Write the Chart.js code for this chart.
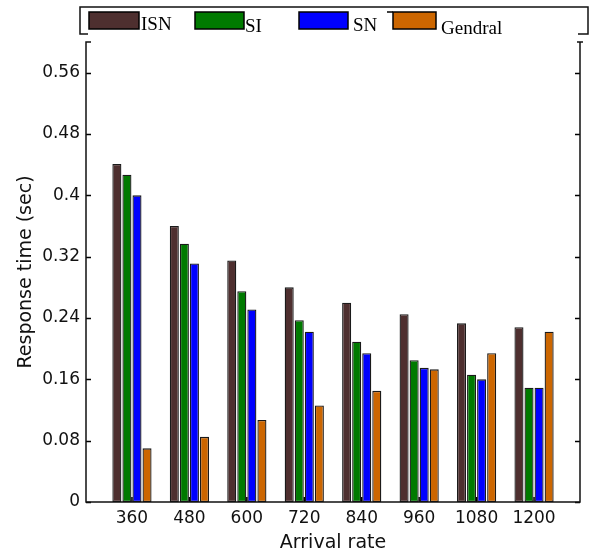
<!DOCTYPE html>
<html>
<head>
<meta charset="utf-8">
<script src="https://cdn.jsdelivr.net/npm/chart.js@4"></script>
<style>
  body { margin: 0; background: #fff; }
  #wrap { width: 590px; height: 558px; }
</style>
</head>
<body>
<div id="wrap"><canvas id="histogram" width="590" height="558"></canvas></div>
<script>
// data
const arrivalRates = ['360', '480', '600', '720', '840', '960', '1080', '1200'];
const isn     = [0.441, 0.360, 0.315, 0.280, 0.260, 0.245, 0.233, 0.228];
const si      = [0.427, 0.337, 0.275, 0.237, 0.209, 0.185, 0.166, 0.149];
const sn      = [0.400, 0.311, 0.251, 0.222, 0.194, 0.175, 0.160, 0.149];
const gendral = [0.070, 0.085, 0.107, 0.126, 0.145, 0.173, 0.194, 0.222];
const yTicks      = [0, 0.08, 0.16, 0.24, 0.32, 0.4, 0.48, 0.56];
const yTickLabels = ['0', '0.08', '0.16', '0.24', '0.32', '0.4', '0.48', '0.56'];

const toPoints = vals => vals.map((v, i) => ({ x: i + 1, y: v }));

// matlab style box: inward ticks, side lines, odd legend box on top
const matlabFrame = {
  id: 'matlabFrame',
  beforeDatasetsDraw(chart) {
    const { ctx, chartArea: a, scales: { x, y } } = chart;
    ctx.save();
    ctx.strokeStyle = '#000';
    ctx.lineWidth = 1.5;
    ctx.beginPath();
    y.ticks.forEach(t => {
      const py = Math.round(y.getPixelForValue(t.value)) + 0.5;
      ctx.moveTo(a.left, py); ctx.lineTo(a.left + 5, py);
      ctx.moveTo(a.right, py); ctx.lineTo(a.right - 5, py);
    });
    x.ticks.forEach(t => {
      const px = x.getPixelForValue(t.value);
      ctx.moveTo(px, a.bottom); ctx.lineTo(px, a.bottom - 5);
    });
    ctx.stroke();
    ctx.restore();
  },
  afterDatasetsDraw(chart) {
    const { ctx, chartArea: a } = chart;
    ctx.save();
    ctx.strokeStyle = '#111';
    ctx.lineWidth = 1.5;
    ctx.beginPath();
    ctx.moveTo(a.left + 5, a.top); ctx.lineTo(a.left, a.top);
    ctx.lineTo(a.left, a.bottom); ctx.lineTo(a.right, a.bottom);
    ctx.lineTo(a.right, a.top);
    ctx.moveTo(a.right - 3, a.top); ctx.lineTo(a.right + 3, a.top);
    ctx.stroke();
    ctx.restore();
  },
  afterDraw(chart) {
    const ctx = chart.ctx;
    const sets = chart.data.datasets;
    // legend box
    ctx.save();
    ctx.strokeStyle = '#111';
    ctx.lineWidth = 1.5;
    ctx.beginPath();
    ctx.moveTo(88, 34); ctx.lineTo(80, 34); ctx.lineTo(80, 7);
    ctx.lineTo(588, 7); ctx.lineTo(588, 34); ctx.lineTo(578, 34);
    ctx.stroke();

    const swX = [89, 195, 299, 393];
    const swW = [50, 49, 49, 43];
    const txtX = [141, 245, 353, 441];
    const txtY = [30, 32, 31, 34];
    ctx.font = '19px "Liberation Serif", "Times New Roman", serif';
    ctx.textBaseline = 'alphabetic';
    sets.forEach((ds, i) => {
      ctx.fillStyle = ds.backgroundColor;
      ctx.fillRect(swX[i], 12, swW[i], 17);
      ctx.lineWidth = 1.5;
      ctx.strokeStyle = '#000';
      ctx.strokeRect(swX[i], 12, swW[i], 17);
      ctx.fillStyle = '#000';
      ctx.fillText(ds.label, txtX[i], txtY[i]);
    });
    ctx.beginPath();
    ctx.moveTo(387, 12); ctx.lineTo(393, 12);
    ctx.stroke();
    ctx.restore();
  }
};

Chart.defaults.font.family = '"DejaVu Sans", sans-serif';
Chart.defaults.color = '#111';

const ctx = document.getElementById('histogram').getContext('2d');
const bar = (label, vals, color) => ({
  label: label,
  data: toPoints(vals),
  backgroundColor: color,
  borderColor: '#1a1a1a',
  borderWidth: 1.3,
  borderSkipped: false,
  categoryPercentage: 0.7,
  barPercentage: 0.9
});

new Chart(ctx, {
  type: 'bar',
  data: {
    datasets: [
      bar('ISN', isn, '#4e2f2f'),
      bar('SI', si, '#007a00'),
      bar('SN', sn, '#0000ff'),
      bar('Gendral', gendral, '#cc6600')
    ]
  },
  options: {
    responsive: false,
    animation: false,
    layout: { padding: { left: 0, right: 10, top: 42, bottom: 0 } },
    plugins: {
      legend: { display: false },
      tooltip: { enabled: false }
    },
    scales: {
      x: {
        type: 'linear',
        min: 0.2,
        max: 8.8,
        offset: false,
        afterBuildTicks: s => { s.ticks = arrivalRates.map((c, i) => ({ value: i + 1 })); },
        afterFit: s => { s.height = 56; },
        grid: { display: false, drawTicks: false },
        border: { display: false },
        ticks: {
          font: { size: 17 },
          padding: 6,
          maxRotation: 0,
          autoSkip: false,
          callback: (v, i) => arrivalRates[i]
        },
        title: {
          display: true,
          text: 'Arrival rate',
          font: { size: 19 },
          padding: { top: 0, bottom: 4 }
        }
      },
      y: {
        min: 0,
        max: 0.6,
        afterBuildTicks: s => { s.ticks = yTicks.map(v => ({ value: v })); },
        afterFit: s => { s.width = 86; },
        grid: { display: false, drawTicks: false },
        border: { display: false },
        ticks: {
          font: { size: 17 },
          padding: 6,
          callback: (v, i) => yTickLabels[i]
        },
        title: {
          display: true,
          text: 'Response time (sec)',
          font: { size: 19 },
          padding: { top: 15, bottom: 0 }
        }
      }
    }
  },
  plugins: [matlabFrame]
});
</script>
</body>
</html>
